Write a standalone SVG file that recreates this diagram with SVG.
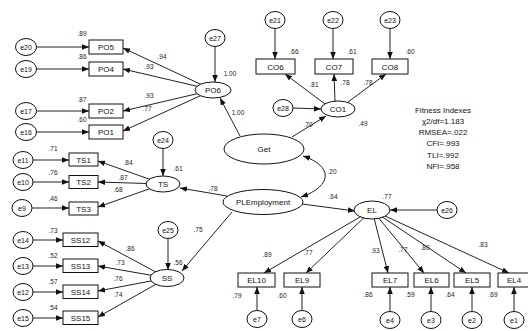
<svg xmlns="http://www.w3.org/2000/svg" width="528" height="331" viewBox="0 0 528 331">
<defs>
<marker id="ah" viewBox="0 0 10 8" refX="10" refY="4" markerWidth="7" markerHeight="5.6" orient="auto" markerUnits="userSpaceOnUse"><path d="M0,0 L10,4 L0,8 Z" fill="#111"/></marker>
<marker id="as" viewBox="0 0 10 8" refX="0" refY="4" markerWidth="7" markerHeight="5.6" orient="auto" markerUnits="userSpaceOnUse"><path d="M10,0 L0,4 L10,8 Z" fill="#111"/></marker>
</defs>
<style>
.c line,.c path{stroke:#222;stroke-width:1;fill:none;marker-end:url(#ah)}
.n rect,.n ellipse{fill:#fff;stroke:#111;stroke-width:1}
.n text{font-family:"Liberation Sans",Arial,sans-serif;font-size:8px;fill:#111;text-anchor:middle}
.n text.e{font-size:7px}
.lb{font-family:"Liberation Sans",Arial,sans-serif;font-size:6.5px;fill:#222;text-anchor:middle}
.fit{font-family:"Liberation Sans",Arial,sans-serif;font-size:8px;fill:#111;text-anchor:middle}
</style>
<rect width="528" height="331" fill="#fff"/>
<g id="connectors" class="c">
<!-- PO -->
<line x1="37" y1="47" x2="89" y2="47"/>
<line x1="37" y1="69" x2="89" y2="69"/>
<line x1="37" y1="111" x2="89" y2="111"/>
<line x1="37" y1="132" x2="89" y2="132"/>
<line x1="213" y1="90" x2="123" y2="48"/>
<line x1="213" y1="90" x2="123" y2="69"/>
<line x1="213" y1="90" x2="123" y2="111"/>
<line x1="213" y1="90" x2="123" y2="131"/>
<line x1="215" y1="47" x2="215" y2="82"/>
<line x1="240" y1="136" x2="220" y2="98"/>
<!-- CO -->
<line x1="275" y1="29" x2="275" y2="59"/>
<line x1="333" y1="29" x2="333" y2="59"/>
<line x1="390" y1="29" x2="390" y2="59"/>
<line x1="325" y1="104" x2="285" y2="74"/>
<line x1="335" y1="101" x2="334" y2="74"/>
<line x1="348" y1="102" x2="386" y2="74"/>
<line x1="293" y1="108" x2="321" y2="109"/>
<line x1="292" y1="137" x2="326" y2="116"/>
<!-- Get <-> PLEmployment -->
<path d="M303,156 C333,166 333,186 301,197" style="marker-start:url(#as)"/>
<!-- TS -->
<line x1="33" y1="160" x2="69" y2="160"/>
<line x1="33" y1="182" x2="69" y2="182"/>
<line x1="32" y1="208" x2="69" y2="208"/>
<line x1="163" y1="184" x2="98" y2="161"/>
<line x1="163" y1="184" x2="98" y2="182"/>
<line x1="163" y1="184" x2="98" y2="207"/>
<line x1="163" y1="149" x2="163" y2="176"/>
<line x1="227" y1="196" x2="180" y2="188"/>
<!-- SS -->
<line x1="33" y1="240" x2="63" y2="240"/>
<line x1="33" y1="266" x2="63" y2="266"/>
<line x1="33" y1="292" x2="63" y2="292"/>
<line x1="33" y1="318" x2="63" y2="318"/>
<line x1="167" y1="278" x2="98" y2="241"/>
<line x1="167" y1="278" x2="98" y2="266"/>
<line x1="167" y1="278" x2="98" y2="291"/>
<line x1="167" y1="278" x2="98" y2="317"/>
<line x1="168" y1="239" x2="168" y2="270"/>
<line x1="232" y1="212" x2="182" y2="271"/>
<!-- EL -->
<line x1="302" y1="204" x2="355" y2="211"/>
<line x1="437" y1="210" x2="390" y2="210"/>
<line x1="372" y1="210" x2="264" y2="273"/>
<line x1="372" y1="210" x2="306" y2="273"/>
<line x1="372" y1="210" x2="388" y2="273"/>
<line x1="372" y1="210" x2="424" y2="273"/>
<line x1="372" y1="210" x2="466" y2="273"/>
<line x1="372" y1="210" x2="509" y2="273"/>
<line x1="257" y1="310" x2="257" y2="287"/>
<line x1="302" y1="310" x2="302" y2="287"/>
<line x1="390" y1="311" x2="390" y2="287"/>
<line x1="431" y1="311" x2="431" y2="287"/>
<line x1="472" y1="311" x2="472" y2="287"/>
<line x1="514" y1="311" x2="514" y2="287"/>
</g>
<!-- PO nodes -->
<g id="e20" class="n"><ellipse cx="26" cy="47" rx="10.5" ry="8.5"/><text class="e" x="26" y="49.5">e20</text></g>
<g id="e19" class="n"><ellipse cx="26" cy="69" rx="10.5" ry="8.5"/><text class="e" x="26" y="71.5">e19</text></g>
<g id="e17" class="n"><ellipse cx="26" cy="111" rx="10.5" ry="8.5"/><text class="e" x="26" y="113.5">e17</text></g>
<g id="e16" class="n"><ellipse cx="26" cy="132" rx="10.5" ry="8.5"/><text class="e" x="26" y="134.5">e16</text></g>
<g id="PO5" class="n"><rect x="89" y="40" width="34" height="14"/><text x="106" y="50">PO5</text></g>
<g id="PO4" class="n"><rect x="89" y="62" width="34" height="14"/><text x="106" y="72">PO4</text></g>
<g id="PO2" class="n"><rect x="89" y="104" width="34" height="14"/><text x="106" y="114">PO2</text></g>
<g id="PO1" class="n"><rect x="89" y="125" width="34" height="14"/><text x="106" y="135">PO1</text></g>
<g id="PO6" class="n"><ellipse cx="213" cy="90" rx="18" ry="8"/><text x="213" y="93">PO6</text></g>
<g id="e27" class="n"><ellipse cx="215" cy="38" rx="10" ry="8.5"/><text class="e" x="215" y="40.5">e27</text></g>
<!-- CO nodes -->
<g id="e21" class="n"><ellipse cx="275" cy="20" rx="10" ry="8.5"/><text class="e" x="275" y="22.5">e21</text></g>
<g id="e22" class="n"><ellipse cx="333" cy="20" rx="10" ry="8.5"/><text class="e" x="333" y="22.5">e22</text></g>
<g id="e23" class="n"><ellipse cx="390" cy="20" rx="10" ry="8.5"/><text class="e" x="390" y="22.5">e23</text></g>
<g id="CO6" class="n"><rect x="256" y="59" width="39" height="15"/><text x="275.5" y="69.5">CO6</text></g>
<g id="CO7" class="n"><rect x="315" y="59" width="38" height="15"/><text x="334" y="69.5">CO7</text></g>
<g id="CO8" class="n"><rect x="372" y="59" width="36" height="15"/><text x="390" y="69.5">CO8</text></g>
<g id="CO1" class="n"><ellipse cx="338" cy="109" rx="17" ry="8"/><text x="338" y="112">CO1</text></g>
<g id="e28" class="n"><ellipse cx="283" cy="108" rx="10" ry="8.5"/><text class="e" x="283" y="110.5">e28</text></g>
<g id="Get" class="n"><ellipse cx="264" cy="149" rx="40" ry="15"/><text x="264" y="152">Get</text></g>
<g id="PLEmployment" class="n"><ellipse cx="263" cy="202" rx="40" ry="12.5"/><text x="263" y="205">PLEmployment</text></g>
<!-- TS nodes -->
<g id="e11" class="n"><ellipse cx="23" cy="160" rx="10" ry="8.5"/><text class="e" x="23" y="162.5">e11</text></g>
<g id="e10" class="n"><ellipse cx="23" cy="182" rx="10" ry="8.5"/><text class="e" x="23" y="184.5">e10</text></g>
<g id="e9" class="n"><ellipse cx="22" cy="208" rx="10" ry="8.5"/><text class="e" x="22" y="210.5">e9</text></g>
<g id="TS1" class="n"><rect x="69" y="153" width="29" height="13"/><text x="83.5" y="162.5">TS1</text></g>
<g id="TS2" class="n"><rect x="69" y="175.5" width="29" height="13"/><text x="83.5" y="185">TS2</text></g>
<g id="TS3" class="n"><rect x="69" y="202" width="29" height="13"/><text x="83.5" y="211.5">TS3</text></g>
<g id="TS" class="n"><ellipse cx="163" cy="184" rx="17" ry="8"/><text x="163" y="187">TS</text></g>
<g id="e24" class="n"><ellipse cx="163" cy="140" rx="10" ry="8.5"/><text class="e" x="163" y="142.5">e24</text></g>
<!-- SS nodes -->
<g id="e14" class="n"><ellipse cx="23" cy="240" rx="10" ry="8.5"/><text class="e" x="23" y="242.5">e14</text></g>
<g id="e13" class="n"><ellipse cx="23" cy="266" rx="10" ry="8.5"/><text class="e" x="23" y="268.5">e13</text></g>
<g id="e12" class="n"><ellipse cx="23" cy="292" rx="10" ry="8.5"/><text class="e" x="23" y="294.5">e12</text></g>
<g id="e15" class="n"><ellipse cx="23" cy="318" rx="10" ry="8.5"/><text class="e" x="23" y="320.5">e15</text></g>
<g id="SS12" class="n"><rect x="63" y="233" width="35" height="13.5"/><text x="80.5" y="242.5">SS12</text></g>
<g id="SS13" class="n"><rect x="63" y="259" width="35" height="13.5"/><text x="80.5" y="268.5">SS13</text></g>
<g id="SS14" class="n"><rect x="63" y="285" width="35" height="13.5"/><text x="80.5" y="294.5">SS14</text></g>
<g id="SS15" class="n"><rect x="63" y="311" width="35" height="13.5"/><text x="80.5" y="320.5">SS15</text></g>
<g id="SS" class="n"><ellipse cx="167" cy="278" rx="17" ry="8.5"/><text x="167" y="281">SS</text></g>
<g id="e25" class="n"><ellipse cx="168" cy="230" rx="10" ry="8.5"/><text class="e" x="168" y="232.5">e25</text></g>
<!-- EL nodes -->
<g id="EL" class="n"><ellipse cx="372" cy="210" rx="18" ry="9"/><text x="372" y="213">EL</text></g>
<g id="e26" class="n"><ellipse cx="447" cy="210" rx="10" ry="8.5"/><text class="e" x="447" y="212.5">e26</text></g>
<g id="EL10" class="n"><rect x="238" y="273" width="37" height="14"/><text x="256.5" y="283">EL10</text></g>
<g id="EL9" class="n"><rect x="284" y="273" width="36" height="14"/><text x="302" y="283">EL9</text></g>
<g id="EL7" class="n"><rect x="372" y="273" width="36" height="14"/><text x="390" y="283">EL7</text></g>
<g id="EL6" class="n"><rect x="414" y="273" width="35" height="14"/><text x="431.5" y="283">EL6</text></g>
<g id="EL5" class="n"><rect x="454" y="273" width="36" height="14"/><text x="472" y="283">EL5</text></g>
<g id="EL4" class="n"><rect x="498" y="273" width="32" height="14"/><text x="514" y="283">EL4</text></g>
<g id="e7" class="n"><ellipse cx="257" cy="319" rx="10" ry="8.5"/><text class="e" x="257" y="321.5">e7</text></g>
<g id="e6" class="n"><ellipse cx="302" cy="319" rx="10" ry="8.5"/><text class="e" x="302" y="321.5">e6</text></g>
<g id="e4" class="n"><ellipse cx="390" cy="320" rx="10" ry="8.5"/><text class="e" x="390" y="322.5">e4</text></g>
<g id="e3" class="n"><ellipse cx="431" cy="320" rx="10" ry="8.5"/><text class="e" x="431" y="322.5">e3</text></g>
<g id="e2" class="n"><ellipse cx="472" cy="320" rx="10" ry="8.5"/><text class="e" x="472" y="322.5">e2</text></g>
<g id="e1" class="n"><ellipse cx="514" cy="320" rx="10" ry="8.5"/><text class="e" x="514" y="322.5">e1</text></g>
<!-- labels -->
<g id="labels" class="lb">
<text x="82" y="36">.89</text><text x="82" y="59">.86</text><text x="82" y="102">.87</text><text x="82" y="122">.60</text>
<text x="162" y="59">.94</text><text x="149" y="69">.93</text><text x="149" y="98">.93</text><text x="147" y="111">.77</text>
<text x="230" y="76">1.00</text><text x="238" y="115">1.00</text>
<text x="294" y="54">.66</text><text x="352" y="54">.61</text><text x="410" y="54">.60</text>
<text x="314" y="87">.81</text><text x="345" y="85">.78</text><text x="368" y="85">.78</text>
<text x="308" y="127">.70</text><text x="363" y="126">.49</text>
<text x="332" y="174">.20</text>
<text x="53" y="151">.71</text><text x="53" y="175">.76</text><text x="53" y="201">.46</text>
<text x="128" y="165">.84</text><text x="123" y="180">.87</text><text x="118" y="192">.68</text>
<text x="178" y="171">.61</text><text x="213" y="191">.78</text>
<text x="53" y="233">.73</text><text x="53" y="258">.52</text><text x="53" y="284">.57</text><text x="53" y="310">.54</text>
<text x="130" y="251">.86</text><text x="120" y="265">.73</text><text x="118" y="281">.76</text><text x="118" y="297">.74</text>
<text x="178" y="265">.56</text><text x="198" y="232">.75</text>
<text x="333" y="199">.64</text><text x="387" y="199">.77</text>
<text x="267" y="257">.89</text><text x="308" y="255">.77</text><text x="375" y="253">.93</text><text x="403" y="252">.77</text><text x="425" y="250">.80</text><text x="483" y="247">.83</text>
<text x="237" y="298">.79</text><text x="282" y="298">.60</text><text x="368" y="297">.86</text><text x="410" y="297">.59</text><text x="450" y="297">.64</text><text x="493" y="297">.69</text>
</g>
<g id="fitness" class="fit">
<text x="443" y="113">Fitness Indexes</text>
<text x="443" y="124">χ2/df=1.183</text>
<text x="443" y="135">RMSEA=.022</text>
<text x="443" y="146">CFI=.993</text>
<text x="443" y="158">TLI=.992</text>
<text x="443" y="169">NFI=.958</text>
</g>
</svg>
